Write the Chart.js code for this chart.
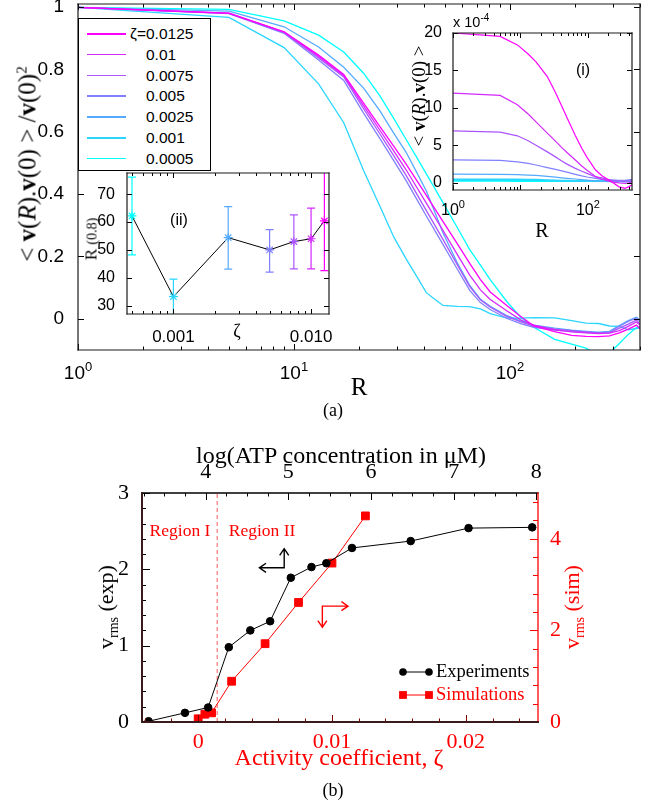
<!DOCTYPE html>
<html>
<head>
<meta charset="utf-8">
<script src="https://cdn.jsdelivr.net/npm/chart.js@4/dist/chart.umd.min.js"></script>
<style>
  body { margin: 0; background: #fff; }
  #fig { position: relative; width: 652px; height: 807px; overflow: hidden; background: #fff; }
  #fig canvas { position: absolute; }
  .lbl { position: absolute; white-space: nowrap; line-height: 1; transform: translate(-50%, -50%); }
  .rot { transform: translate(-50%, -50%) rotate(-90deg); }
  .abs { position: absolute; white-space: nowrap; line-height: 1; }
  .serif { font-family: "Liberation Serif", "Times New Roman", serif; }
  .sans { font-family: "Liberation Sans", Arial, sans-serif; }
  .red { color: #f00; }
  sup, sub { line-height: 0; }
  #legendA { position: absolute; left: 78px; top: 18px; width: 131px; height: 151px; border: 1.5px solid #000;
             background: #fff; font: 15.5px "Liberation Sans", Arial, sans-serif; }
  #legendA .row { position: absolute; left: 0; height: 0; }
  #legendA .ln { position: absolute; left: 8px; width: 39px; height: 1.5px; top: -1px; }
  #legendA .tx { position: absolute; left: 67px; top: -8px; line-height: 1; }
  #legendA .pre { position: absolute; right: 100%; }
</style>
</head>
<body>
<div id="fig">
  <canvas id="mainChart" width="652" height="400" style="left:0;top:0"></canvas>
  <div id="legendA"></div>
  <canvas id="insetI" width="252" height="240" style="left:400px;top:0"></canvas>
  <canvas id="insetII" width="290" height="185" style="left:60px;top:160px"></canvas>
  <canvas id="bottomChart" width="652" height="377" style="left:0;top:430px"></canvas>

  <div class="lbl rot serif" style="left:27px;top:164px;font-size:25px">&lt; <b>v</b>(<i>R</i>).<b>v</b>(0) &gt; /<b>v</b>(0)<sup style="font-size:15px">2</sup></div>
  <div class="lbl serif" style="left:359px;top:386px;font-size:25px">R</div>
  <div class="lbl serif" style="left:333px;top:410px;font-size:18px">(a)</div>

  <div class="lbl rot serif" style="left:418px;top:96px;font-size:19px">&lt; <b>v</b>(<i>R</i>).<b>v</b>(0) &gt;</div>
  <div class="lbl serif" style="left:542px;top:230px;font-size:20px">R</div>
  <div class="lbl sans" style="left:583px;top:70px;font-size:16px">(i)</div>
  <div class="abs sans" style="left:453px;top:15px;font-size:14.5px">x 10<sup style="font-size:10px">-4</sup></div>

  <div class="lbl sans" style="left:179px;top:220px;font-size:16px">(ii)</div>
  <div class="lbl serif" style="left:237px;top:331px;font-size:18px">ζ</div>
  <div class="lbl rot serif" style="left:91px;top:239px;font-size:17px">R <span style="font-size:14px">(0.8)</span></div>

  <div class="lbl serif" style="left:341px;top:455px;font-size:24px">log(ATP concentration in μM)</div>
  <div class="lbl serif red" style="left:180px;top:531px;font-size:17.5px">Region I</div>
  <div class="lbl serif red" style="left:262px;top:531px;font-size:17.5px">Region II</div>
  <div class="lbl rot serif" style="left:106px;top:607px;font-size:22px">v<sub style="font-size:14px">rms</sub> (exp)</div>
  <div class="lbl rot serif red" style="left:572px;top:607px;font-size:22px">v<sub style="font-size:14px">rms</sub> (sim)</div>
  <div class="lbl serif red" style="left:339px;top:757px;font-size:24px">Activity coefficient, ζ</div>
  <div class="lbl serif" style="left:333px;top:790px;font-size:18px">(b)</div>
</div>
<script>
// ---- panel (a): velocity correlation vs R ----
const zetaLabels = ['0.0125', '0.01', '0.0075', '0.005', '0.0025', '0.001', '0.0005'];
const seriesColors = ['rgb(255,0,255)', 'rgb(213,42,255)', 'rgb(170,85,255)', 'rgb(128,128,255)',
                      'rgb(85,170,255)', 'rgb(42,213,255)', 'rgb(0,255,255)'];

const rValues = [1, 5, 9, 13, 17, 21, 25, 29, 33, 37, 41, 45, 49, 57, 65, 73, 81, 97, 113, 129, 161, 193, 225, 257, 289, 321, 353, 385, 400];
const corrZ0125 = [0.999, 0.981, 0.921, 0.846, 0.784, 0.692, 0.617, 0.553, 0.497, 0.444, 0.396, 0.352, 0.312, 0.241, 0.179, 0.126, 0.086, 0.042, 0.006, -0.023, -0.041, -0.053, -0.056, -0.057, -0.055, -0.045, -0.033, -0.020, -0.032];
const corrZ01   = [0.999, 0.980, 0.920, 0.842, 0.780, 0.683, 0.605, 0.538, 0.479, 0.422, 0.371, 0.325, 0.283, 0.207, 0.141, 0.093, 0.062, 0.025, -0.005, -0.020, -0.035, -0.042, -0.045, -0.047, -0.046, -0.038, -0.024, -0.010, -0.020];
const corrZ0075 = [0.999, 0.980, 0.919, 0.837, 0.776, 0.674, 0.593, 0.523, 0.461, 0.401, 0.347, 0.299, 0.254, 0.174, 0.104, 0.061, 0.038, 0.007, -0.011, -0.023, -0.033, -0.038, -0.042, -0.046, -0.045, -0.030, -0.017, -0.004, -0.016];
const corrZ005  = [0.999, 0.979, 0.916, 0.830, 0.765, 0.660, 0.578, 0.507, 0.444, 0.384, 0.330, 0.282, 0.238, 0.160, 0.092, 0.052, 0.030, 0.001, -0.016, -0.027, -0.036, -0.040, -0.043, -0.046, -0.042, -0.024, -0.008, 0.003, -0.008];
const corrZ0025 = [0.999, 0.987, 0.937, 0.872, 0.807, 0.740, 0.667, 0.595, 0.535, 0.470, 0.410, 0.340, 0.275, 0.180, 0.108, 0.063, 0.040, 0.010, -0.008, -0.020, -0.030, -0.036, -0.040, -0.043, -0.040, -0.022, -0.006, 0.005, -0.004];
const corrZ001  = [0.999, 0.967, 0.870, 0.754, 0.629, 0.476, 0.361, 0.262, 0.193, 0.136, 0.084, 0.062, 0.043, 0.040, 0.039, 0.032, 0.017, 0.002, 0.002, 0.004, 0.003, -0.006, -0.014, -0.015, -0.023, -0.024, -0.035, -0.031, -0.029];
const corrZ0005 = [0.999, 0.993, 0.956, 0.910, 0.856, 0.788, 0.715, 0.642, 0.576, 0.518, 0.465, 0.417, 0.372, 0.293, 0.223, 0.172, 0.126, 0.054, 0.003, -0.027, -0.066, -0.081, -0.094, -0.120, -0.110, -0.079, -0.050, -0.028, -0.025];

// inset (i): unnormalised correlation, units of 1e-4
const rInset = [1, 5, 9, 13, 17, 25, 33, 41, 49, 65, 81, 97, 129, 161, 225, 289, 353, 400, 450];
const rawZ0125 = [20.0, 19.55, 18.41, 17.19, 16.14, 14.18, 12.05, 10.19, 8.65, 6.29, 4.58, 3.37, 1.71, 0.91, 0.09, -0.58, -0.78, -0.58, -0.31];
const rawZ01   = [11.97, 11.65, 10.40, 9.16, 8.11, 6.60, 5.53, 4.67, 4.02, 3.01, 2.22, 1.65, 0.82, 0.46, 0.09, -0.04, -0.11, -0.04, 0.09];
const rawZ0075 = [6.92, 6.75, 6.25, 5.58, 4.98, 4.10, 3.43, 2.89, 2.46, 1.89, 1.51, 1.22, 0.76, 0.63, 0.29, 0.23, 0.16, 0.23, 0.29];
const rawZ005  = [3.04, 2.95, 2.76, 2.56, 2.34, 1.99, 1.75, 1.55, 1.38, 1.10, 0.88, 0.74, 0.56, 0.41, 0.36, 0.29, 0.29, 0.36, 0.43];
const rawZ0025 = [1.12, 1.10, 1.06, 1.00, 0.95, 0.83, 0.72, 0.63, 0.56, 0.47, 0.39, 0.32, 0.23, 0.19, 0.16, 0.16, 0.16, 0.20, 0.23];
const rawZ001  = [0.40, 0.40, 0.39, 0.38, 0.36, 0.32, 0.28, 0.25, 0.23, 0.22, 0.22, 0.21, 0.20, 0.20, 0.19, 0.19, 0.18, 0.18, 0.18];
const rawZ0005 = [0.23, 0.23, 0.22, 0.22, 0.22, 0.21, 0.21, 0.20, 0.20, 0.20, 0.19, 0.19, 0.19, 0.19, 0.18, 0.17, 0.18, 0.19, 0.19];

// inset (ii): R at which correlation drops to 0.8
const zetaR08 = [0.0005, 0.001, 0.0025, 0.005, 0.0075, 0.01, 0.0125];
const r08     = [62.2, 33.2, 54.4, 50.0, 53.0, 54.0, 60.4];
const r08Low  = [48.2, 26.5, 43.1, 42.0, 43.2, 43.2, 42.6];
const r08High = [76.1, 39.5, 65.5, 57.3, 62.6, 65.0, 79.0];

// tick labels
const mainYTicks = [0, 0.2, 0.4, 0.6, 0.8, 1];
const mainXTicks = [1, 10, 100];
const mainXExps = ['0', '1', '2'];
const insetIYTicks = [0, 5, 10, 15, 20];
const insetIXTicks = [1, 100];
const insetIXExps = ['0', '2'];
const insetIIYTicks = [30, 40, 50, 60, 70];
const insetIIXTicks = [0.001, 0.01];
const insetIIXLabels = ['0.001', '0.010'];

// ---- panel (b): rms velocity vs activity ----
const atpLog = [3.31, 3.75, 4.03, 4.28, 4.54, 4.78, 5.03, 5.28, 5.46, 5.77, 6.48, 7.18, 7.95];
const vExp   = [0.01, 0.12, 0.19, 0.98, 1.20, 1.32, 1.89, 2.03, 2.08, 2.28, 2.37, 2.54, 2.55];
const zetaSim = [0, 0.0005, 0.001, 0.0025, 0.005, 0.0075, 0.01, 0.0125];
const vSim    = [0.07, 0.17, 0.20, 0.89, 1.71, 2.61, 3.47, 4.50];
const zetaBoundary = 0.00142;   // Region I / Region II

const zetaTicks = [0, 0.01, 0.02];
const zetaTickLabels = ['0', '0.01', '0.02'];
const atpTicks = [4, 5, 6, 7, 8];
const expTicks = [0, 1, 2, 3];
const simTicks = [0, 2, 4];

const SANS = '"Liberation Sans", Arial, sans-serif';
const SERIF = '"Liberation Serif", "Times New Roman", serif';

function logMinor(eLo, eHi, lo, hi) {
  const out = [];
  for (let e = eLo; e <= eHi; e++)
    for (let m = 1; m < 10; m++) {
      const v = m * Math.pow(10, e);
      if (v >= lo && v <= hi) out.push(v);
    }
  return out;
}
function steps(lo, hi, step) {
  const out = [];
  for (let k = 0; lo + k * step <= hi + 1e-9; k++) out.push(+(lo + k * step).toFixed(6));
  return out;
}
// fixed axis sizes so the plot box lands where the figure has it
function fixW(w) { return s => { s.width = w; s.paddingTop = 0; s.paddingBottom = 0; }; }
function fixH(h) { return s => { s.height = h; s.paddingLeft = 0; s.paddingRight = 0; }; }

// box frame + inward ticks, drawn after everything
function decor(cfg) {
  return {
    id: 'decor',
    beforeDraw(chart) {
      if (!cfg.fillArea) return;
      const a = chart.chartArea, ctx = chart.ctx;
      ctx.save();
      ctx.fillStyle = '#fff';
      ctx.fillRect(a.left, a.top, a.right - a.left, a.bottom - a.top);
      ctx.restore();
    },
    beforeDatasetsDraw(chart) {
      if (cfg.under) cfg.under(chart, chart.ctx);
    },
    afterDraw(chart) {
      const ctx = chart.ctx, a = chart.chartArea;
      ctx.save();
      (cfg.ticks || []).forEach(t => {
        const s = chart.scales[t.scale];
        ctx.strokeStyle = t.color || '#000';
        ctx.lineWidth = 1;
        ctx.beginPath();
        t.values.forEach(v => {
          const p = Math.round(s.getPixelForValue(v)) + 0.5;
          t.sides.forEach(side => {
            if (side === 'bottom') { ctx.moveTo(p, a.bottom); ctx.lineTo(p, a.bottom - t.len); }
            if (side === 'top') { ctx.moveTo(p, a.top); ctx.lineTo(p, a.top + t.len); }
            if (side === 'left') { ctx.moveTo(a.left, p); ctx.lineTo(a.left + t.len, p); }
            if (side === 'right') { ctx.moveTo(a.right, p); ctx.lineTo(a.right - t.len, p); }
          });
        });
        ctx.stroke();
      });
      (cfg.frame || []).forEach(f => {
        ctx.strokeStyle = f.color;
        ctx.lineWidth = f.width;
        const h = f.width / 2;
        ctx.beginPath();
        if (f.side === 'left') { ctx.moveTo(a.left, a.top - h); ctx.lineTo(a.left, a.bottom + h); }
        if (f.side === 'right') { ctx.moveTo(a.right, a.top - h); ctx.lineTo(a.right, a.bottom + h); }
        if (f.side === 'top') { ctx.moveTo(a.left - h, a.top); ctx.lineTo(a.right + h, a.top); }
        if (f.side === 'bottom') { ctx.moveTo(a.left - h, a.bottom); ctx.lineTo(a.right + h, a.bottom); }
        ctx.stroke();
      });
      if (cfg.over) cfg.over(chart, ctx);
      ctx.restore();
    }
  };
}

function pow10Label(ctx, x, baseY, exp, size, expSize, rise) {
  ctx.font = size + 'px ' + SANS;
  const w1 = ctx.measureText('10').width;
  ctx.font = expSize + 'px ' + SANS;
  const w2 = ctx.measureText(exp).width;
  const x0 = x - (w1 + w2) / 2;
  ctx.fillStyle = '#000';
  ctx.textAlign = 'left';
  ctx.textBaseline = 'alphabetic';
  ctx.font = size + 'px ' + SANS;
  ctx.fillText('10', x0, baseY);
  ctx.font = expSize + 'px ' + SANS;
  ctx.fillText(exp, x0 + w1, baseY - rise);
}

const frameBlack = ['left', 'right', 'top', 'bottom'].map(side => ({ side, color: '#1a1a1a', width: 1.2 }));
const noGrid = { display: false };
const noBorder = { display: false };
const baseOpts = {
  responsive: false, animation: false, events: [],
  plugins: { legend: { display: false }, tooltip: { enabled: false } }
};

// legend for panel (a)
const legendA = document.getElementById('legendA');
zetaLabels.forEach((lab, i) => {
  const row = document.createElement('div');
  row.className = 'row';
  row.style.top = (15 + 20.83 * i) + 'px';
  row.innerHTML = '<div class="ln" style="background:' + seriesColors[i] + '"></div>' +
    '<div class="tx">' + (i === 0 ? '<span class="pre">ζ=</span>' : '') + lab + '</div>';
  legendA.appendChild(row);
});

// main chart
const corrSeries = [corrZ0125, corrZ01, corrZ0075, corrZ005, corrZ0025, corrZ001, corrZ0005];
new Chart(document.getElementById('mainChart'), {
  type: 'scatter',
  data: {
    datasets: corrSeries.map((vals, i) => ({
      label: zetaLabels[i],
      data: vals.map((v, k) => ({ x: rValues[k], y: v })),
      showLine: true, borderColor: seriesColors[i], borderWidth: 1.3, pointRadius: 0
    }))
  },
  options: {
    ...baseOpts,
    layout: { padding: { top: 4, right: 12, left: 0, bottom: 0 } },
    scales: {
      x: { type: 'logarithmic', min: 1, max: 400, grid: noGrid, border: noBorder, ticks: { display: false },
           afterFit: fixH(50) },
      y: { min: -0.1, max: 1.01, grid: noGrid, border: noBorder,
           afterBuildTicks: s => { s.ticks = mainYTicks.map(v => ({ value: v })); },
           ticks: { padding: 6, color: '#000', font: { family: SANS, size: 19 }, callback: v => String(v) },
           afterFit: fixW(78) }
    }
  },
  plugins: [decor({
    frame: frameBlack,
    ticks: [
      { scale: 'x', values: mainXTicks, len: 6, sides: ['bottom', 'top'] },
      { scale: 'x', values: logMinor(0, 2, 1, 400), len: 3.5, sides: ['bottom', 'top'] },
      { scale: 'y', values: mainYTicks, len: 6, sides: ['left', 'right'] }
    ],
    over(chart, ctx) {
      const xs = chart.scales.x, a = chart.chartArea;
      mainXTicks.forEach((v, i) => pow10Label(ctx, xs.getPixelForValue(v), a.bottom + 29, mainXExps[i], 19, 13, 8));
    }
  })]
});

// inset (i)
const rawSeries = [rawZ0125, rawZ01, rawZ0075, rawZ005, rawZ0025, rawZ001, rawZ0005];
new Chart(document.getElementById('insetI'), {
  type: 'scatter',
  data: {
    datasets: rawSeries.map((vals, i) => ({
      label: zetaLabels[i],
      data: vals.map((v, k) => ({ x: rInset[k], y: v })),
      showLine: true, borderColor: seriesColors[i], borderWidth: i >= 5 ? 2 : 1.2, pointRadius: 0
    }))
  },
  options: {
    ...baseOpts,
    layout: { padding: { top: 33, right: 20, left: 0, bottom: 0 } },
    scales: {
      x: { type: 'logarithmic', min: 1, max: 450, grid: noGrid, border: noBorder, ticks: { display: false },
           afterFit: fixH(50) },
      y: { min: -1, max: 20, grid: noGrid, border: noBorder,
           afterBuildTicks: s => { s.ticks = insetIYTicks.map(v => ({ value: v })); },
           ticks: { padding: 3, color: '#000', font: { family: SANS, size: 16 }, callback: v => String(v) },
           afterFit: fixW(53) }
    }
  },
  plugins: [decor({
    fillArea: true,
    frame: frameBlack,
    ticks: [
      { scale: 'x', values: logMinor(0, 2, 1, 450), len: 3, sides: ['bottom', 'top'] },
      { scale: 'x', values: [1, 10, 100], len: 5, sides: ['bottom', 'top'] },
      { scale: 'y', values: insetIYTicks, len: 5, sides: ['left', 'right'] }
    ],
    over(chart, ctx) {
      const xs = chart.scales.x, a = chart.chartArea;
      insetIXTicks.forEach((v, i) => pow10Label(ctx, xs.getPixelForValue(v), a.bottom + 25, insetIXExps[i], 16, 11, 7));
    }
  })]
});

// inset (ii)
const pointColors = seriesColors.slice().reverse();
new Chart(document.getElementById('insetII'), {
  type: 'scatter',
  data: {
    datasets: [{
      label: 'R(0.8)',
      data: zetaR08.map((z, k) => ({ x: z, y: r08[k] })),
      showLine: true, borderColor: '#000', borderWidth: 1,
      pointStyle: 'star', pointRadius: 4.5, pointBorderWidth: 1.2,
      pointBorderColor: pointColors, pointBackgroundColor: pointColors
    }]
  },
  options: {
    ...baseOpts,
    layout: { padding: { top: 13, right: 21, left: 0, bottom: 0 } },
    scales: {
      x: { type: 'logarithmic', min: 0.00046, max: 0.0135, grid: noGrid, border: noBorder,
           afterBuildTicks: s => { s.ticks = insetIIXTicks.map(v => ({ value: v })); },
           ticks: { padding: 7, color: '#000', autoSkip: false, maxRotation: 0,
                    font: { family: SANS, size: 17, lineHeight: 1 }, callback: (v, i) => insetIIXLabels[i] },
           afterFit: fixH(31) },
      y: { min: 27, max: 77.6, grid: noGrid, border: noBorder,
           afterBuildTicks: s => { s.ticks = insetIIYTicks.map(v => ({ value: v })); },
           ticks: { padding: 4, color: '#000', font: { family: SANS, size: 16 }, callback: v => String(v) },
           afterFit: fixW(67) }
    }
  },
  plugins: [decor({
    fillArea: true,
    frame: frameBlack,
    ticks: [
      { scale: 'x', values: logMinor(-4, -2, 0.00046, 0.0135), len: 3, sides: ['bottom', 'top'] },
      { scale: 'x', values: [0.001, 0.01], len: 5, sides: ['bottom', 'top'] },
      { scale: 'y', values: insetIIYTicks, len: 5, sides: ['left', 'right'] }
    ],
    under(chart, ctx) {
      const xs = chart.scales.x, ys = chart.scales.y, a = chart.chartArea;
      ctx.save();
      ctx.beginPath();
      ctx.rect(a.left, a.top, a.right - a.left, a.bottom - a.top);
      ctx.clip();
      ctx.lineWidth = 1.2;
      zetaR08.forEach((z, k) => {
        const x = xs.getPixelForValue(z), lo = ys.getPixelForValue(r08Low[k]), hi = ys.getPixelForValue(r08High[k]);
        ctx.strokeStyle = pointColors[k];
        ctx.beginPath();
        ctx.moveTo(x, lo); ctx.lineTo(x, hi);
        ctx.moveTo(x - 4, lo); ctx.lineTo(x + 4, lo);
        ctx.moveTo(x - 4, hi); ctx.lineTo(x + 4, hi);
        ctx.stroke();
      });
      ctx.restore();
    }
  })]
});

// ---- panel (b) ----
function arrowHead(ctx, x, y, dx, dy, len) {
  const ang = Math.atan2(dy, dx), s = 0.6;
  ctx.moveTo(x - len * Math.cos(ang - s), y - len * Math.sin(ang - s));
  ctx.lineTo(x, y);
  ctx.lineTo(x - len * Math.cos(ang + s), y - len * Math.sin(ang + s));
}
function elbowArrow(ctx, cx, cy, hx, vy, color) {
  ctx.strokeStyle = color;
  ctx.lineWidth = 1.4;
  ctx.beginPath();
  ctx.moveTo(hx, cy); ctx.lineTo(cx, cy); ctx.lineTo(cx, vy);
  arrowHead(ctx, hx, cy, Math.sign(hx - cx), 0, 8);
  arrowHead(ctx, cx, vy, 0, Math.sign(vy - cy), 8);
  ctx.stroke();
}

new Chart(document.getElementById('bottomChart'), {
  type: 'scatter',
  data: {
    datasets: [
      { label: 'Experiments', data: atpLog.map((x, k) => ({ x, y: vExp[k] })), xAxisID: 'xTop', yAxisID: 'yLeft',
        showLine: true, borderColor: '#000', borderWidth: 1, pointRadius: 3.8,
        pointBackgroundColor: '#000', pointBorderColor: '#000' },
      { label: 'Simulations', data: zetaSim.map((x, k) => ({ x, y: vSim[k] })), xAxisID: 'x', yAxisID: 'yRight',
        showLine: true, borderColor: '#f00', borderWidth: 1, pointStyle: 'rect', pointRadius: 5.5,
        pointBackgroundColor: '#f00', pointBorderColor: '#f00' },
      { label: 'boundary', data: [{ x: zetaBoundary, y: 0 }, { x: zetaBoundary, y: 5 }], xAxisID: 'x', yAxisID: 'yRight',
        showLine: true, borderColor: 'rgba(255,70,70,0.9)', borderWidth: 1, borderDash: [4, 3], pointRadius: 0 }
    ]
  },
  options: {
    ...baseOpts,
    layout: { padding: 0 },
    scales: {
      x: { type: 'linear', position: 'bottom', min: -0.0042, max: 0.0254, grid: noGrid, border: noBorder,
           afterBuildTicks: s => { s.ticks = zetaTicks.map(v => ({ value: v })); },
           ticks: { padding: 1, color: '#f00', autoSkip: false, maxRotation: 0,
                    font: { family: SERIF, size: 22, lineHeight: 1 }, callback: (v, i) => zetaTickLabels[i] },
           afterFit: fixH(85) },
      xTop: { type: 'linear', position: 'top', min: 3.23, max: 8.02, grid: noGrid, border: noBorder,
              afterBuildTicks: s => { s.ticks = atpTicks.map(v => ({ value: v })); },
              ticks: { padding: 2, color: '#000', autoSkip: false, maxRotation: 0,
                       font: { family: SERIF, size: 22, lineHeight: 1 }, callback: v => String(v) },
              afterFit: fixH(63) },
      yLeft: { type: 'linear', position: 'left', min: 0, max: 3, grid: noGrid, border: noBorder,
               afterBuildTicks: s => { s.ticks = expTicks.map(v => ({ value: v })); },
               ticks: { padding: 5, color: '#000', font: { family: SERIF, size: 22 }, callback: v => String(v) },
               afterFit: fixW(142) },
      yRight: { type: 'linear', position: 'right', min: 0, max: 5, grid: noGrid, border: noBorder,
                afterBuildTicks: s => { s.ticks = simTicks.map(v => ({ value: v })); },
                ticks: { padding: 4, color: '#f00', font: { family: SERIF, size: 22 }, callback: v => String(v) },
                afterFit: fixW(114) }
    }
  },
  plugins: [decor({
    frame: [
      { side: 'top', color: '#000', width: 1.3 },
      { side: 'right', color: '#f00', width: 1.3 },
      { side: 'left', color: '#3a1a1a', width: 2 },
      { side: 'bottom', color: '#3a1a1a', width: 2 }
    ],
    ticks: [
      { scale: 'xTop', values: steps(3.25, 8, 0.25), len: 3.5, sides: ['top'] },
      { scale: 'xTop', values: atpTicks, len: 7, sides: ['top'] },
      { scale: 'x', values: steps(-0.004, 0.024, 0.002), len: 3.5, sides: ['bottom'], color: '#800' },
      { scale: 'x', values: zetaTicks, len: 7, sides: ['bottom'], color: '#800' },
      { scale: 'yLeft', values: steps(0, 3, 0.2), len: 4, sides: ['left'] },
      { scale: 'yLeft', values: expTicks, len: 8, sides: ['left'] },
      { scale: 'yRight', values: steps(0, 4.8, 0.4), len: 5, sides: ['right'], color: '#f00' },
      { scale: 'yRight', values: simTicks, len: 8, sides: ['right'], color: '#f00' }
    ],
    over(chart, ctx) {
      const xT = chart.scales.xTop, yL = chart.scales.yLeft, xB = chart.scales.x, yR = chart.scales.yRight, a = chart.chartArea;
      // direction arrows: black -> left/top axes, red -> bottom/right axes
      elbowArrow(ctx, xT.getPixelForValue(4.95), yL.getPixelForValue(2.02), xT.getPixelForValue(4.65), yL.getPixelForValue(2.27), '#000');
      elbowArrow(ctx, xB.getPixelForValue(0.00928), yR.getPixelForValue(2.53), xB.getPixelForValue(0.0112), yR.getPixelForValue(2.07), '#f00');
      // legend
      const lx = a.right - 135, ly1 = a.bottom - 50, ly2 = a.bottom - 27;
      ctx.lineWidth = 1;
      ctx.strokeStyle = '#000';
      ctx.beginPath(); ctx.moveTo(lx, ly1); ctx.lineTo(lx + 26, ly1); ctx.stroke();
      ctx.fillStyle = '#000';
      [lx, lx + 26].forEach(px => { ctx.beginPath(); ctx.arc(px, ly1, 3.8, 0, Math.PI * 2); ctx.fill(); });
      ctx.strokeStyle = '#f00';
      ctx.beginPath(); ctx.moveTo(lx, ly2); ctx.lineTo(lx + 26, ly2); ctx.stroke();
      ctx.fillStyle = '#f00';
      [lx, lx + 26].forEach(px => ctx.fillRect(px - 3.9, ly2 - 3.9, 7.8, 7.8));
      ctx.font = '18.5px ' + SERIF;
      ctx.textAlign = 'left';
      ctx.textBaseline = 'middle';
      ctx.fillStyle = '#000';
      ctx.fillText('Experiments', lx + 33, ly1);
      ctx.fillStyle = '#f00';
      ctx.fillText('Simulations', lx + 33, ly2);
    }
  })]
});
</script>
</body>
</html>
